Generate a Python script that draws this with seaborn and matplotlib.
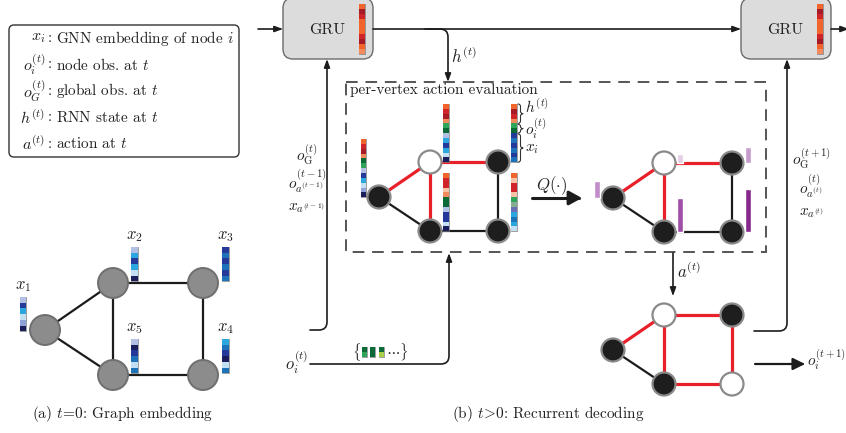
import numpy as np
import matplotlib
matplotlib.use("Agg")
import matplotlib.pyplot as plt
import seaborn as sns
from matplotlib.colors import ListedColormap
from matplotlib.patches import Circle, FancyBboxPatch, FancyArrowPatch, Rectangle
from matplotlib.path import Path

sns.set_theme(style="white")
plt.rcParams["font.family"] = ["cmr10", "DejaVu Serif"]
plt.rcParams["mathtext.fontset"] = "cm"
plt.rcParams["axes.unicode_minus"] = False
plt.rcParams["axes.formatter.use_mathtext"] = True

W, H = 846, 433
INK = "#1c1c1c"

# colours of the vector cells
palette = {
    "lt": "#b1bfe5", "pw": "#8ea2d8", "cy": "#2aa7df", "pb": "#c2dff4",
    "db": "#25399a", "mb": "#1e72b8", "nv": "#1b1e5c",
    "or": "#f1652c", "rd": "#d0232a", "dr": "#a61b26", "sa": "#f38a5c", "pe": "#f8c2a6",
    "gr": "#2ea45b", "dg": "#0c6a36", "gg": "#86ad91", "yg": "#a9d047", "pu": "#6b6db4",
}
cell_names = list(palette)
cell_cmap = ListedColormap([palette[n] for n in cell_names])

# (a) graph embedding
emb_labels = ["$x_1$", "$x_2$", "$x_3$", "$x_4$", "$x_5$"]
emb_vectors = [
    ["lt", "db", "cy", "pb", "pw", "nv"],
    ["lt", "cy", "db", "cy", "pb", "nv"],
    ["db", "mb", "db", "mb", "db", "mb"],
    ["cy", "mb", "db", "nv", "pb", "mb"],
    ["lt", "nv", "db", "mb", "pb", "mb"],
]
graph_a_pos = [(45, 330), (113, 283), (203, 283), (203, 375), (113, 375)]
graph_a_edges = [(0, 1), (0, 4), (1, 2), (1, 4), (2, 3), (4, 3)]

# (b) decoding graph: nodes A, B, C, D, E (same layout shifted)
shape = [(-51, 35), (0, 0), (68, 0), (0, 69), (68, 69)]
graph_edges = [(0, 1), (1, 2), (1, 3), (0, 3), (2, 4), (3, 4)]
eval_origin = [(430, 162), (664, 163)]
eval_edge_red = [True, True, True, False, False, False]
eval_white = [False, True, False, False, False]
next_origin = (664, 315)
next_edge_red = [True, True, True, False, True, True]
next_white = [False, True, False, False, True]

# per-vertex inputs [h | o_i | x_i]
vertex_vectors = [
    ["or", "rd", "dr", "sa", "dg", "gr", "lt", "db", "cy", "pb", "pw", "nv"],
    ["or", "rd", "dr", "sa", "gr", "dg", "lt", "cy", "db", "cy", "pb", "nv"],
    ["or", "dr", "rd", "sa", "gr", "dg", "db", "mb", "db", "mb", "db", "mb"],
    ["or", "rd", "rd", "pe", "sa", "dg", "dg", "lt", "db", "db", "pb", "nv"],
    ["or", "pe", "rd", "rd", "pe", "gr", "gg", "pu", "cy", "mb", "cy", "pb"],
]
gru_state = ["or", "dr", "rd", "or", "or", "or", "rd", "dr", "or", "sa"]
node_obs = [["dg", "gr"], ["dg", "dg"], ["dg", "yg"]]

# Q values per vertex
q_values = [0.40, 0.21, 0.37, 0.79, 1.00]
q_colors = ["#c18dc8", "#e5cfe5", "#c59ccb", "#9e4ea6", "#86278b"]

legend_syms = ["$x_i$", "$o_i^{(t)}$", "$o_G^{(t)}$", "$h^{(t)}$", "$a^{(t)}$"]
legend_desc = ["GNN embedding of node $i$", "node obs. at $t$", "global obs. at $t$",
               "RNN state at $t$", "action at $t$"]
left_inputs = [r"$o_{\mathrm{G}}^{(t)}$", r"$o_{a^{(t-1)}}^{(t-1)}$", r"$x_{a^{(t-1)}}$"]
right_inputs = [r"$o_{\mathrm{G}}^{(t+1)}$", r"$o_{a^{(t)}}^{(t)}$", r"$x_{a^{(t)}}$"]

fig = plt.figure(figsize=(W / 100, H / 100), dpi=100)
ax = fig.add_axes([0, 0, 1, 1])
ax.set_xlim(0, W)
ax.set_ylim(H, 0)
ax.axis("off")


def text(x, y, s, size=11, ha="center", va="center", **kw):
    ax.text(x, y, s, fontsize=size, ha=ha, va=va, color="#222222", **kw)


def vector(x, y, cells, w=5.5, ch=4.85):
    h = ch * len(cells)
    iax = fig.add_axes([x / W, 1 - (y + h) / H, w / W, h / H])
    codes = np.array([[cell_names.index(c)] for c in cells])
    sns.heatmap(codes, ax=iax, cmap=cell_cmap, vmin=-0.5, vmax=len(cell_names) - 0.5,
                cbar=False, xticklabels=False, yticklabels=False)
    iax.axis("off")
    ax.add_patch(Rectangle((x, y), w, h, fill=False, ec="#777777", lw=0.5, zorder=5))


def route(pts, r=8):
    verts, codes = [pts[0]], [Path.MOVETO]
    for i in range(1, len(pts) - 1):
        p0, p, p1 = (np.array(q, float) for q in pts[i - 1:i + 2])
        d1 = (p - p0) / np.linalg.norm(p - p0)
        d2 = (p1 - p) / np.linalg.norm(p1 - p)
        verts += [p - d1 * r, p, p + d2 * r]
        codes += [Path.LINETO, Path.CURVE3, Path.CURVE3]
    verts.append(pts[-1])
    codes.append(Path.LINETO)
    return Path(verts, codes)


def arrow(pts, lw=1.2, head=(0.6, 0.22), scale=8):
    style = "-|>,head_length=%g,head_width=%g" % head
    ax.add_patch(FancyArrowPatch(path=route(pts), arrowstyle=style, mutation_scale=scale,
                                 lw=lw, color=INK, zorder=4))


def graph(pos, edges, red, white, r=11.5):
    for (i, j), is_red in zip(edges, red):
        ax.plot([pos[i][0], pos[j][0]], [pos[i][1], pos[j][1]],
                color="#e8202a" if is_red else INK, lw=2.3 if is_red else 1.6,
                solid_capstyle="butt", zorder=2)
    for (x, y), wh in zip(pos, white):
        ax.add_patch(Circle((x, y), r, fc="white" if wh else "#1e1e1e", ec="#8a8a8a",
                            lw=1.6, zorder=3))


def brace(x, y0, y1, w=5):
    ym = (y0 + y1) / 2
    d = min(2.5, (y1 - y0) / 4)
    xm = x + w / 2
    verts = [(x, y0), (xm, y0), (xm, y0 + d), (xm, ym - d), (xm, ym), (x + w, ym),
             (xm, ym), (xm, ym + d), (xm, y1 - d), (xm, y1), (x, y1)]
    codes = [Path.MOVETO, Path.CURVE3, Path.CURVE3, Path.LINETO, Path.CURVE3, Path.CURVE3,
             Path.CURVE3, Path.CURVE3, Path.LINETO, Path.CURVE3, Path.CURVE3]
    ax.add_patch(FancyArrowPatch(path=Path(verts, codes), arrowstyle="-", lw=0.8,
                                 color="#333333", zorder=4))


# legend box
ax.add_patch(FancyBboxPatch((9, 25), 230, 132, boxstyle="round,pad=0,rounding_size=5",
                            fc="white", ec="#333333", lw=1.0, zorder=1))
for k, (s, d) in enumerate(zip(legend_syms, legend_desc)):
    y = 38 + k * 26.5
    text(45, y, s, size=11.5, ha="right")
    text(50, y, ":")
    text(56, y, d, ha="left")

# (a) graph embedding
for i, j in graph_a_edges:
    ax.plot([graph_a_pos[i][0], graph_a_pos[j][0]], [graph_a_pos[i][1], graph_a_pos[j][1]],
            color=INK, lw=1.6, zorder=2)
for (x, y) in graph_a_pos:
    ax.add_patch(Circle((x, y), 15, fc="#8c8c8c", ec="#6f6f6f", lw=1.4, zorder=3))
emb_anchor = [(19.5, 297), (131, 247), (222, 247), (222, 339), (131, 339)]
for lab, cells, (x, y) in zip(emb_labels, emb_vectors, emb_anchor):
    vector(x, y, cells, w=6.5, ch=5.7)
    text(x + 3.5, y - 11, lab, size=12)
text(123, 414, r"(a) $t\!=\!0$: Graph embedding")

# GRU cells and recurrent line
for gx in (283, 741):
    ax.add_patch(FancyBboxPatch((gx, -2), 90, 61, boxstyle="round,pad=0,rounding_size=10",
                                fc="#dcdcdc", ec="#6b6b6b", lw=1.0, zorder=3))
    text(gx + 44, 30, "GRU", size=11.5)
    vector(gx + 76, 4, gru_state, w=5.5, ch=5.0)
arrow([(258, 29), (283, 29)])
arrow([(373, 29), (741, 29)])
arrow([(831, 29), (849, 29)])
arrow([(425, 29), (448, 29), (448, 82)])
text(464, 56, "$h^{(t)}$", size=12)

# inputs to the GRU on the left
arrow([(310, 330), (327, 330), (327, 59)])
for s, y in zip(left_inputs, (161, 189, 210)):
    text(307, y, s, size=11, va="baseline")
arrow([(310, 364), (449, 364), (449, 253)])
text(297, 362, "$o_i^{(t)}$", size=12)
text(356, 352, r"$\{$", size=10.5)
for k, cells in enumerate(node_obs):
    vector(362 + k * 8.3, 347, cells, w=5, ch=4.8)
text(386, 352, r"$\cdots\}$", size=10.5, ha="left")

# per-vertex action evaluation
ax.add_patch(Rectangle((346, 82), 420, 170, fill=False, ec="#555555", lw=1.4,
                       ls=(0, (6, 4)), zorder=1))
text(350, 90, "per-vertex action evaluation", size=11, ha="left")
left_pos = [(eval_origin[0][0] + dx, eval_origin[0][1] + dy) for dx, dy in shape]
graph(left_pos, graph_edges, eval_edge_red, eval_white)
for k, ((x, y), cells) in enumerate(zip(left_pos, vertex_vectors)):
    vx = x - 18.5 if k == 0 else x + 13
    vector(vx, y - 58, cells, w=5.5, ch=4.85)
cx, cy = left_pos[2]
top = cy - 58
brace(cx + 20, top, top + 4 * 4.85)
brace(cx + 20, top + 4 * 4.85 + 0.8, top + 6 * 4.85)
brace(cx + 20, top + 6 * 4.85 + 0.8, top + 12 * 4.85)
text(cx + 27, 113, "$h^{(t)}$", size=11, ha="left", va="baseline")
text(cx + 27, 135, "$o_i^{(t)}$", size=11, ha="left", va="baseline")
text(cx + 27, 151, "$x_i$", size=11, ha="left", va="baseline")

arrow([(532, 198), (582, 198)], lw=2.2, head=(0.55, 0.3), scale=14)
text(552, 186, r"$Q(\cdot)$", size=12)

right_pos = [(eval_origin[1][0] + dx, eval_origin[1][1] + dy) for dx, dy in shape]
graph(right_pos, graph_edges, eval_edge_red, eval_white)
bar_x = [x - 19 if k == 0 else x + 13 for k, (x, y) in enumerate(right_pos)]
bar_y = [y for x, y in right_pos]
ax.bar(bar_x, [-43 * q for q in q_values], width=5.5, bottom=bar_y, align="edge",
       color=q_colors, zorder=4)

# chosen action and next state
arrow([(673, 253), (673, 296)])
text(689, 271, "$a^{(t)}$", size=12)
next_pos = [(next_origin[0] + dx, next_origin[1] + dy) for dx, dy in shape]
graph(next_pos, graph_edges, next_edge_red, next_white)
arrow([(755, 364), (805, 364)], lw=1.6, head=(0.6, 0.3), scale=12)
text(807, 360, "$o_i^{(t+1)}$", size=11, ha="left")
arrow([(754, 331), (787, 331), (787, 59)])
for s, y in zip(right_inputs, (165, 194, 215)):
    text(811, y, s, size=11, va="baseline")

text(548, 414, r"(b) $t\!>\!0$: Recurrent decoding")

fig.savefig("out.png", dpi=100)
